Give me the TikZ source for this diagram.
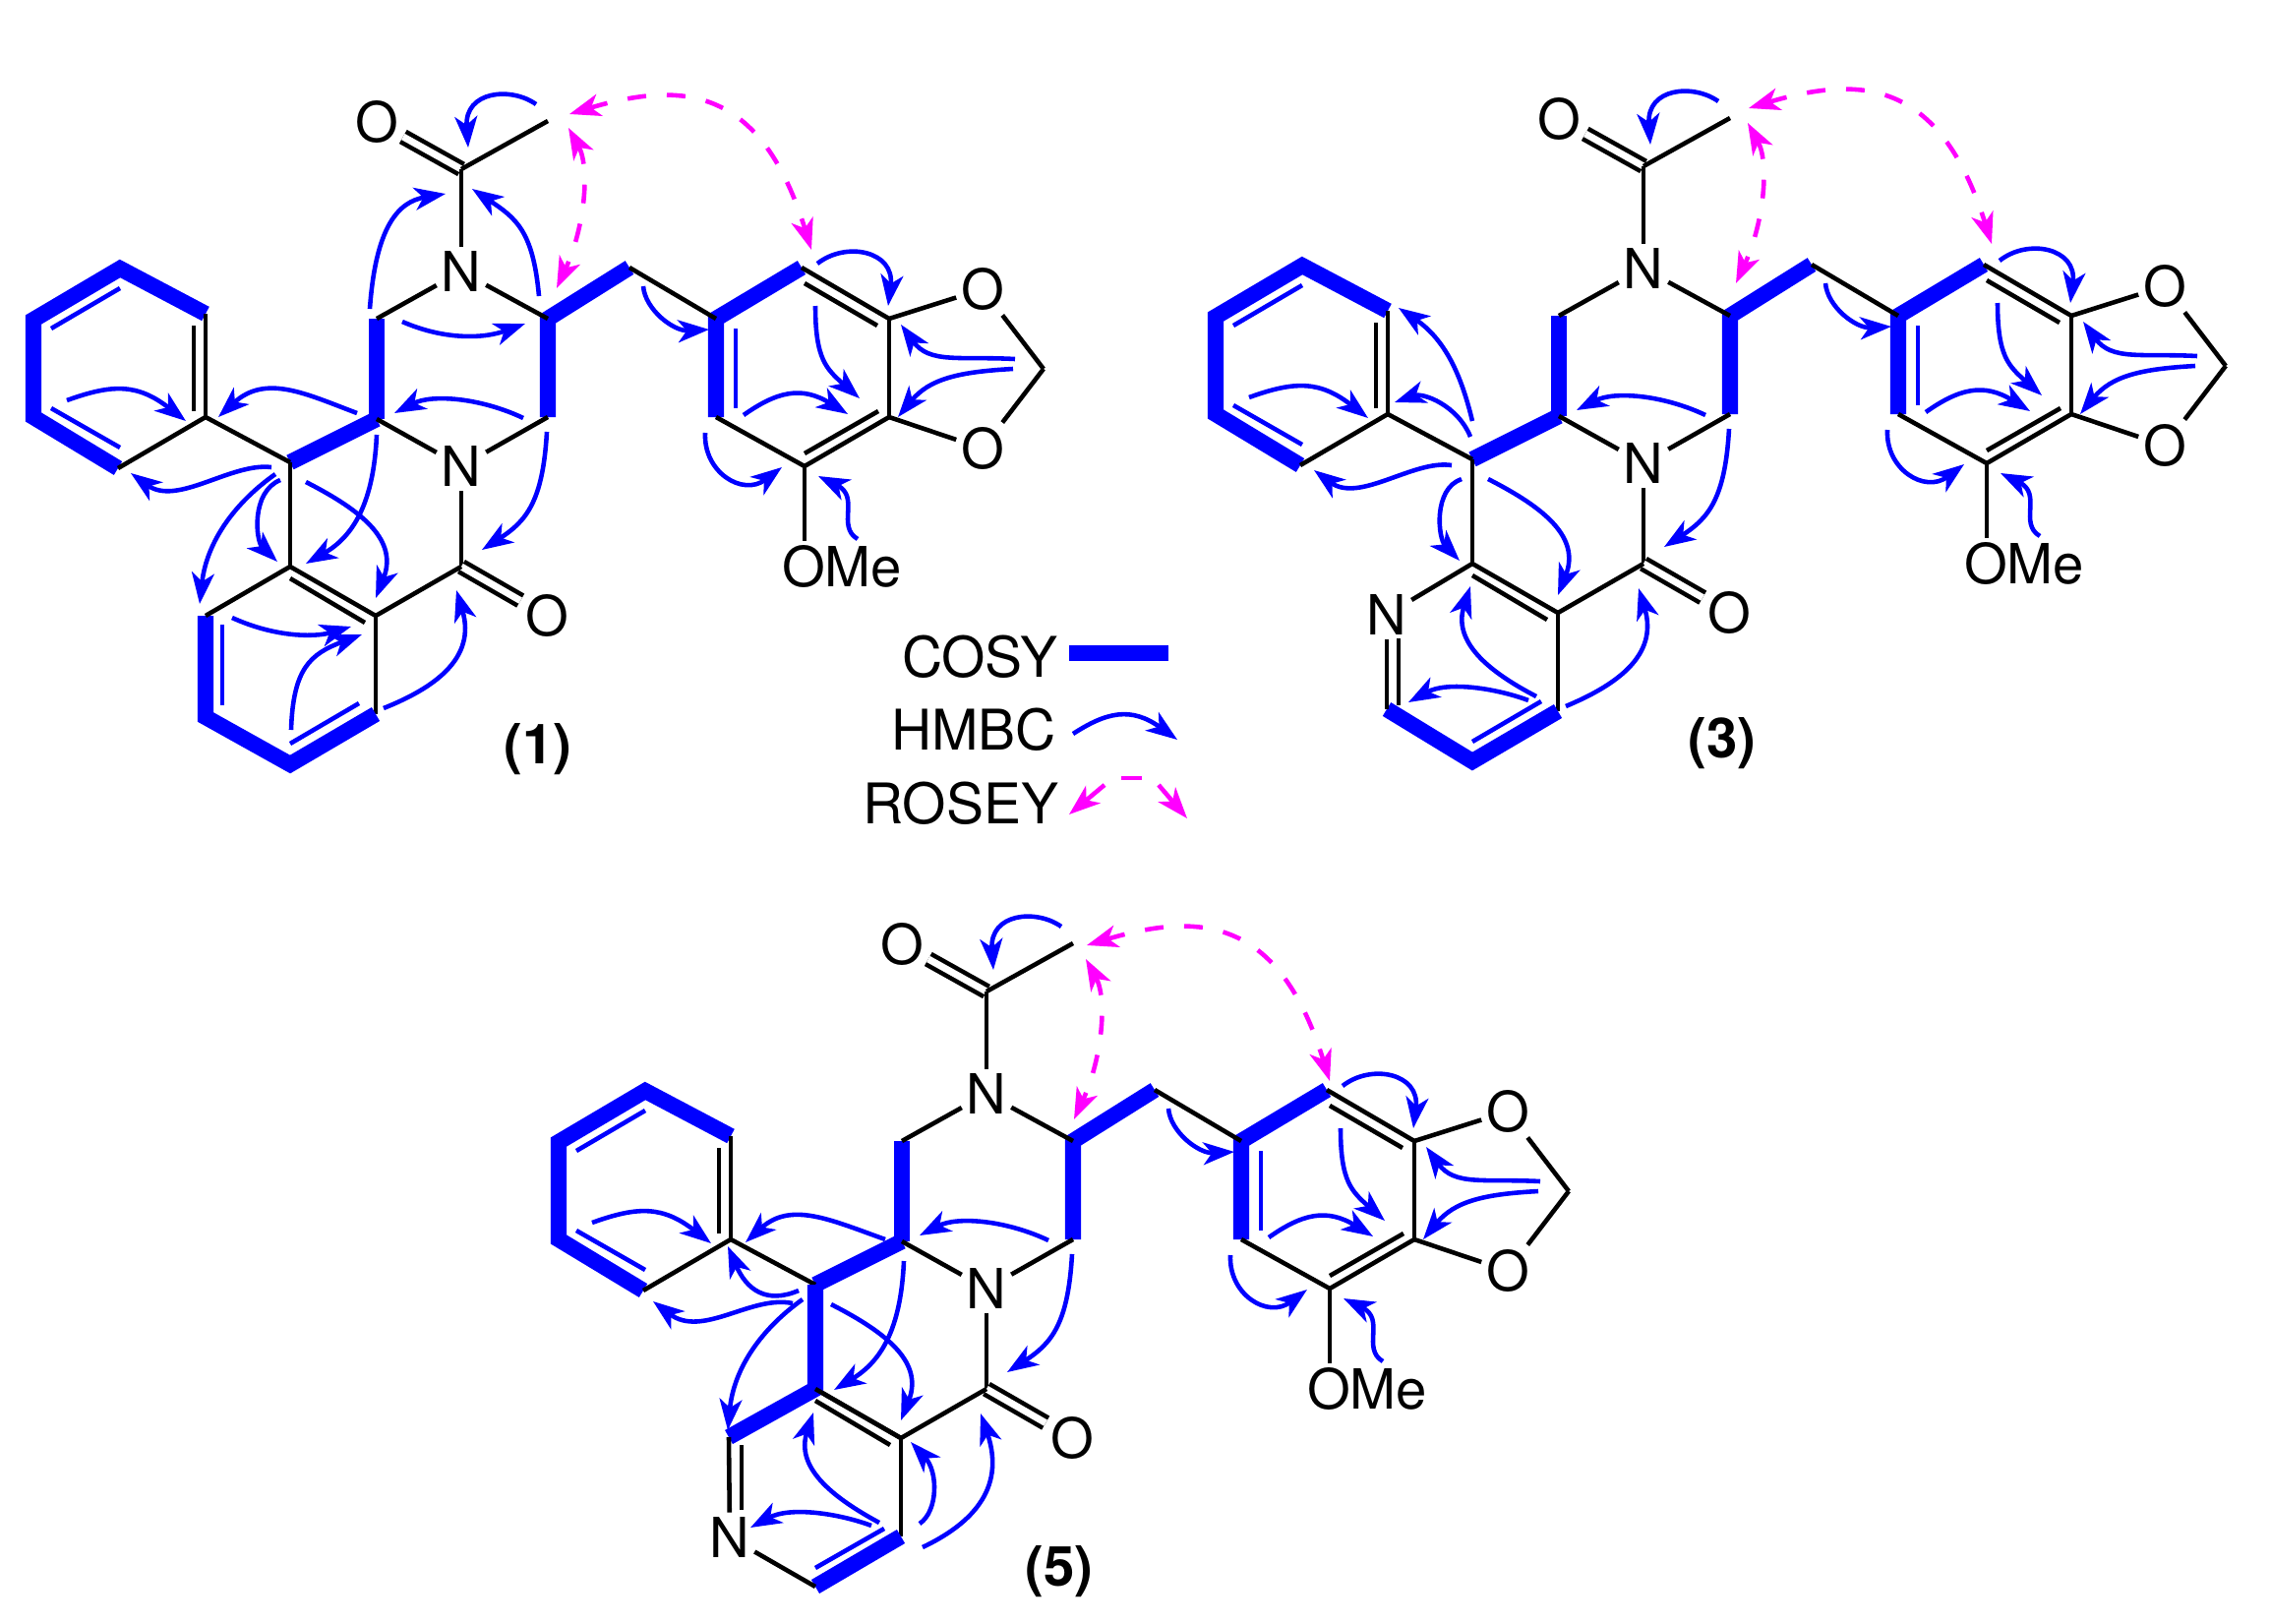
\documentclass[tikz,border=0pt]{standalone}
\usepackage{fontspec}
\setmainfont{TeX Gyre Heros}
\usepackage{tikz}
\usetikzlibrary{calc}
\usetikzlibrary{arrows.meta}
\definecolor{hmbcblue}{RGB}{0,0,255}
\definecolor{roseypink}{RGB}{255,0,255}
\tikzset{>={Stealth[length=9pt,width=6.5pt,inset=2.5pt]}}
\tikzstyle{atom} = [inner sep=1.2pt, font=\fontsize{16}{18}\selectfont]
\tikzstyle{keytext} = [inner sep=1.2pt, anchor=east, font=\fontsize{16.2}{18}\selectfont]
\tikzstyle{bond} = [draw=black, line width=1.3pt]
\tikzstyle{dbond} = [bond, double, double distance=2pt]
\tikzstyle{cosy} = [draw=hmbcblue, line width=4.6pt]
\tikzstyle{inring} = [draw=hmbcblue, line width=1.3pt]
\tikzstyle{hmbc} = [->, draw=hmbcblue, line width=1.3pt]
\tikzstyle{rosey} = [<->, draw=roseypink, line width=1.3pt, dash pattern=on 5.4pt off 6pt]

\newcommand{\corepart}{
\node [atom] (Oac) at (383, 124) {O};
\coordinate (Me) at (557, 123);
\coordinate (Cac) at (469, 172);
\node [atom] (N1) at (469, 276) {N};
\coordinate (Ca) at (383, 324);
\coordinate (Cb) at (557, 324);
\coordinate (Cc) at (557, 424);
\coordinate (Cd) at (383, 426);
\node [atom] (N2) at (469, 474) {N};
\coordinate (Cco) at (469, 576);
\node [atom] (Oco) at (556, 626) {O};
\coordinate (Cph) at (295, 470);
\coordinate (P1) at (209, 424);
\coordinate (P2) at (209, 319);
\coordinate (P3) at (122, 273);
\coordinate (P4) at (34, 325);
\coordinate (P5) at (34, 424);
\coordinate (P6) at (120, 476);
\coordinate (F2) at (295, 576);
\coordinate (F3) at (382, 626);
\coordinate (F4) at (382, 726);
\coordinate (Cbz) at (640, 272);
\coordinate (A1) at (728, 324);
\coordinate (A2) at (815, 272);
\coordinate (A3) at (904, 324);
\coordinate (A4) at (904, 424);
\coordinate (A5) at (818, 474);
\coordinate (A6) at (728, 424);
\node [atom] (O1) at (999, 294) {O};
\node [atom] (O2) at (999, 456) {O};
\coordinate (Cdx) at (1061, 375);
\node [atom] (OMe) at (856, 576) {OMe};
\draw [cosy] (Cd) -- (Ca);
\draw [cosy] (Cc) -- (Cb) -- (Cbz);
\draw [cosy] (Cph) -- (Cd);
\draw [cosy] (P2) -- (P3) -- (P4) -- (P5) -- (P6);
\draw [cosy] (A6) -- (A1) -- (A2);
\draw [dbond] (Oac) -- (Cac);
\draw [bond] (Cac) -- (Me);
\draw [bond] (Cac) -- (N1);
\draw [bond] (Ca) -- (N1);
\draw [bond] (Cb) -- (N1);
\draw [bond] (Cd) -- (N2);
\draw [bond] (Cc) -- (N2);
\draw [bond] (N2) -- (Cco);
\draw [dbond] (Cco) -- (Oco);
\draw [bond] (Cco) -- (F3);
\draw [bond] (F2) -- (F3);
\draw [bond] (F3) -- (F4);
\draw [bond] ([shift={(0,12)}]F2) -- ([shift={(-11,7)}]F3);
\draw [bond] (Cph) -- (P1);
\draw [bond] (P1) -- (P2);
\draw [bond] (P1) -- (P6);
\draw [bond] ([shift={(-12,-6)}]P1) -- ([shift={(-12,12)}]P2);
\draw [inring] ([shift={(0,20)}]P3) -- ([shift={(18,9)}]P4);
\draw [inring] ([shift={(18,-9)}]P5) -- ([shift={(2,-21)}]P6);
\draw [bond] (Cbz) -- (A1);
\draw [bond] (A2) -- (A3);
\draw [bond] (A3) -- (A4);
\draw [bond] (A4) -- (A5);
\draw [bond] (A5) -- (A6);
\draw [bond] ([shift={(3,16)}]A2) -- ([shift={(-12,7)}]A3);
\draw [bond] ([shift={(-11,-6)}]A4) -- ([shift={(0,-13)}]A5);
\draw [inring] ([shift={(20,10)}]A1) -- ([shift={(20,-9)}]A6);
\draw [bond] (A3) -- (O1);
\draw [bond] (A4) -- (O2);
\draw [bond] (O1) -- (Cdx);
\draw [bond] (O2) -- (Cdx);
\draw [bond] (A5) -- (A5 |- OMe.north);
\draw [hmbc] (545, 106) .. controls (520, 88) and (472, 92) .. (476, 150);
\draw [hmbc] (532, 425) .. controls (490, 405) and (440, 400) .. (401, 420);
\draw [hmbc] (556, 439) .. controls (552, 510) and (535, 530) .. (490, 559);
\draw [hmbc] (654, 291) .. controls (656, 315) and (685, 337) .. (721, 335);
\draw [hmbc] (831, 268) .. controls (860, 245) and (910, 255) .. (903, 311);
\draw [hmbc] (829, 311) .. controls (829, 365) and (840, 375) .. (874, 405);
\draw [hmbc] (756, 422) .. controls (790, 398) and (815, 392) .. (862, 421);
\draw [hmbc] (717, 440) .. controls (715, 480) and (755, 505) .. (795, 475);
\draw [hmbc] (872, 548) .. controls (850, 535) and (875, 505) .. (832, 484);
\draw [hmbc] (1032, 365) .. controls (975, 362) and (945, 370) .. (916, 330);
\draw [hmbc] (1030, 375) .. controls (975, 378) and (945, 385) .. (913, 424);
\draw [hmbc] (68, 407) .. controls (115, 390) and (140, 390) .. (189, 428);
\draw [hmbc] (311, 490) .. controls (370, 520) and (405, 550) .. (382, 608);
}

\begin{document}
\begin{tikzpicture}[x=0.01cm, y=-0.01cm]
\useasboundingbox (0, 0) rectangle (2308, 1651);

% compound 1
\begin{scope}[name prefix=one-]
\corepart
\coordinate (F1) at (209, 626);
\coordinate (F5) at (209, 729);
\coordinate (F6) at (295, 777);
\draw [cosy] (F1) -- (F5) -- (F6) -- (F4);
\draw [bond] (Cph) -- (F2);
\draw [bond] (F1) -- (F2);
\draw [inring] ([shift={(17,9)}]F1) -- ([shift={(17,-12)}]F5);
\draw [inring] ([shift={(0,-21)}]F6) -- ([shift={(-17,-11)}]F4);
\draw [hmbc] (376, 314) .. controls (382, 230) and (405, 205) .. (453, 197);
\draw [hmbc] (548, 301) .. controls (542, 235) and (525, 222) .. (480, 192);
\draw [hmbc] (409, 327) .. controls (450, 345) and (490, 345) .. (534, 329);
\draw [hmbc] (363, 420) .. controls (310, 400) and (270, 380) .. (222, 424);
\draw [hmbc] (276, 475) .. controls (235, 470) and (180, 515) .. (133, 481);
\draw [hmbc] (280, 482) .. controls (240, 510) and (210, 550) .. (203, 614);
\draw [hmbc] (285, 488) .. controls (255, 500) and (260, 550) .. (282, 571);
\draw [hmbc] (383, 442) .. controls (380, 510) and (360, 545) .. (311, 573);
\draw [hmbc] (236, 628) .. controls (280, 648) and (320, 648) .. (357, 637);
\draw [hmbc] (296, 742) .. controls (298, 680) and (315, 665) .. (368, 645);
\draw [hmbc] (390, 720) .. controls (440, 700) and (485, 670) .. (464, 600);
\draw [rosey] (579, 116) .. controls (699, 80) and (775, 92) .. (825, 254);
\draw [rosey] (578, 130) .. controls (600, 170) and (595, 230) .. (566, 293);
\node [atom] (lab) at (547, 762) {\textbf{(1)}};
\end{scope}

% compound 3
\begin{scope}[shift={(1202, -3)}, name prefix=three-]
\corepart
\node [atom] (F1) at (208, 628) {N};
\coordinate (F5) at (208, 724);
\coordinate (F6) at (295, 777);
\draw [cosy] (F5) -- (F6) -- (F4);
\draw [bond] (Cph) -- (F2);
\draw [bond] (F1) -- (F2);
\draw [bond] (F1) -- (F5);
\draw [bond] ([shift={(12,24)}]F1.center) -- ([shift={(12,-4)}]F5);
\draw [inring] ([shift={(0,-20)}]F6) -- ([shift={(-17,-10)}]F4);
\draw [hmbc] (295, 431) .. controls (285, 390) and (270, 350) .. (220, 316);
\draw [hmbc] (293, 447) .. controls (280, 415) and (245, 402) .. (216, 412);
\draw [hmbc] (274, 476) .. controls (235, 470) and (180, 515) .. (134, 481);
\draw [hmbc] (284, 490) .. controls (255, 500) and (260, 550) .. (282, 573);
\draw [hmbc] (360, 711) .. controls (310, 685) and (275, 655) .. (293, 599);
\draw [hmbc] (352, 715) .. controls (320, 703) and (270, 695) .. (230, 717);
\draw [hmbc] (390, 721) .. controls (440, 700) and (485, 670) .. (464, 601);
\draw [rosey] (576, 113) .. controls (696, 77) and (772, 89) .. (823, 251);
\draw [rosey] (575, 128) .. controls (597, 168) and (592, 228) .. (563, 291);
\node [atom] (lab) at (549, 759) {\textbf{(3)}};
\end{scope}

% compound 5
\begin{scope}[shift={(534, 836)}, name prefix=five-]
\corepart
\coordinate (F1) at (207, 625);
\node [atom] (F5) at (208, 727) {N};
\coordinate (F6) at (295, 777);
\draw [cosy] (Cph) -- (F2) -- (F1);
\draw [cosy] (F6) -- (F4);
\draw [bond] (F2) -- (F3);
\draw [bond] (F1) -- (F5);
\draw [bond] (F5) -- (F6);
\draw [bond] ([shift={(13,8)}]F1) -- ([shift={(12,-28)}]F5.center);
\draw [inring] ([shift={(0,-19)}]F6) -- ([shift={(-17,-8)}]F4);
\draw [hmbc] (366, 424) .. controls (310, 404) and (270, 385) .. (224, 427);
\draw [hmbc] (278, 476) .. controls (245, 490) and (225, 475) .. (206, 431);
\draw [hmbc] (272, 489) .. controls (230, 480) and (180, 525) .. (130, 487);
\draw [hmbc] (282, 485) .. controls (240, 515) and (212, 555) .. (206, 618);
\draw [hmbc] (385, 446) .. controls (382, 515) and (362, 548) .. (314, 577);
\draw [hmbc] (360, 712) .. controls (310, 685) and (275, 655) .. (293, 600);
\draw [hmbc] (352, 715) .. controls (320, 703) and (270, 695) .. (229, 717);
\draw [hmbc] (401, 713) .. controls (420, 700) and (420, 660) .. (392, 630);
\draw [hmbc] (404, 737) .. controls (450, 715) and (490, 680) .. (463, 601);
\draw [rosey] (571, 125) .. controls (691, 89) and (768, 101) .. (818, 263);
\draw [rosey] (570, 139) .. controls (592, 179) and (587, 239) .. (558, 302);
\node [atom] (lab) at (543, 762) {\textbf{(5)}};
\end{scope}

% key
\node [keytext] (cosykey) at (1080, 668) {COSY};
\node [keytext] (hmbckey) at (1079, 742) {HMBC};
\node [keytext] (roseykey) at (1081, 817) {ROSEY};
\coordinate (cosyend) at (1188, 664);
\draw [cosy] (cosyend -| cosykey.east) ++(7, 0) -- (cosyend);
\coordinate (hmbcend) at (1197, 752);
\draw [hmbc] (hmbckey.east) ++(12, 4) .. controls (1125, 724) and (1150, 718) .. (hmbcend);
\coordinate (roseyl) at (1087, 828);
\coordinate (roseyr) at (1207, 832);
\coordinate (roseya) at (1123, 798);
\coordinate (roseyb) at (1178, 798);
\coordinate (roseyc) at (1140, 791);
\coordinate (roseyd) at (1161, 791);
\draw [hmbc, draw=roseypink] (roseya) -- (roseyl);
\draw [hmbc, draw=roseypink] (roseyb) -- (roseyr);
\draw [inring, draw=roseypink] (roseyc) -- (roseyd);
\end{tikzpicture}
\end{document}
